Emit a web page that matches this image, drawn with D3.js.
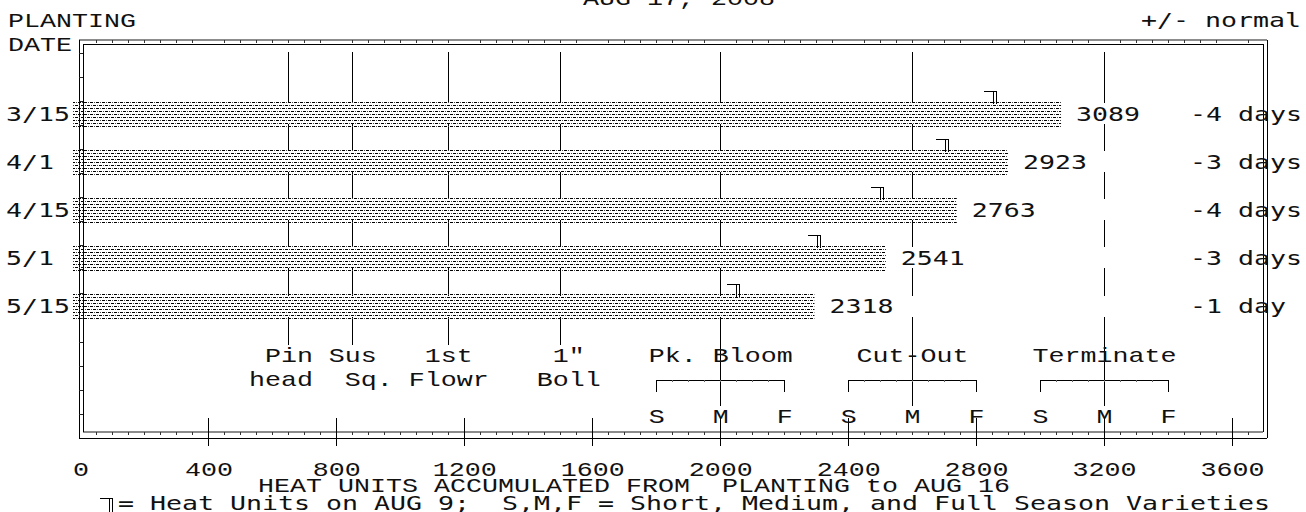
<!DOCTYPE html>
<html><head><meta charset="utf-8">
<script src="https://cdn.jsdelivr.net/npm/d3@7"></script>
<style>body{margin:0;background:#fff}svg{display:block}</style>
</head><body>
<svg id="c" width="1306" height="512"></svg>
<script>
// ---------------- data ----------------
const plantingDates = ["3/15","4/1","4/15","5/1","5/15"];
const heatUnits     = [3089, 2923, 2763, 2541, 2318];
const aug9Units     = [2879, 2729, 2526, 2329, 2076];
const daysFromNormal = ["-4 days","-3 days","-4 days","-3 days","-1 day"];
const xTicks = [0,400,800,1200,1600,2000,2400,2800,3200,3600];
const stageValues = [650, 850, 1150, 1500];
const stageTop    = ["Pin","Sus","1st","1\""];
const stageBottom = ["head","Sq.","Flowr","Boll"];
const seasonStages = ["Pk. Bloom","Cut-Out","Terminate"];
const seasonS = [1800, 2400, 3000];
const seasonM = [2000, 2600, 3200];
const seasonF = [2200, 2800, 3400];
const titleText  = "AUG 17, 2008";
const yTitle1 = "PLANTING", yTitle2 = "DATE";
const rightTitle = "+/- normal";
const xTitle = "HEAT UNITS ACCUMULATED FROM  PLANTING to AUG 16";
const legendText = "= Heat Units on AUG 9;  S,M,F = Short, Medium, and Full Season Varieties";

// ---------------- layout ----------------
const svg = d3.select("#c");
const x = d3.scaleLinear().domain([0,3600]).range([81,1232.5]);
const y = d3.scalePoint().domain(plantingDates).range([113.5,306]);
const BAR_H = 27, BAR_SHIFT = -8, CW = 16;
const SERIF = "'Courier New', Courier, 'Nimbus Mono PS', 'Liberation Mono', monospace";
const SANS  = "'DejaVu Sans Mono', monospace";
const SERIF_SIZE = 21, SANS_SIZE = 20;
const stageTopNudge = [0,0,0,8], stageBottomNudge = [-8,16,0,8];

function gridText(str, left, baseline, family, size) {
  return svg.append("text").attr("x", left).attr("y", baseline)
    .attr("textLength", str.length*CW).attr("lengthAdjust","spacingAndGlyphs")
    .attr("font-family",family).attr("font-size",size)
    .attr("fill","#111").attr("xml:space","preserve").style("white-space","pre").text(str);
}
const centeredText = (str, cx, baseline, family, size) =>
  gridText(str, cx - str.length*CW/2, baseline, family, size);

// pattern
const defs = svg.append("defs");
const pat = defs.append("pattern").attr("id","dith").attr("patternUnits","userSpaceOnUse")
  .attr("width",6).attr("height",6);
pat.append("rect").attr("x",0).attr("y",0).attr("width",3).attr("height",1).attr("fill","#000");
pat.append("rect").attr("x",4).attr("y",0).attr("width",1).attr("height",1).attr("fill","#444");
pat.append("rect").attr("x",3).attr("y",3).attr("width",3).attr("height",1).attr("fill","#000");
pat.append("rect").attr("x",1).attr("y",3).attr("width",1).attr("height",1).attr("fill","#444");

// ---------------- frame ----------------
const xL0 = x(0)-2, xL1 = x(0)+2, xR1 = 1263, xR0 = 1267;
const yT0 = 40, yT1 = 44, yB1 = 432, yB0 = 438;
const frame = svg.append("g").attr("shape-rendering","crispEdges");
frame.append("line").attr("x1",xL0).attr("x2",xR0).attr("y1",yT0).attr("y2",yT0).attr("stroke","#8c8c8c").attr("stroke-width",1.6);
frame.append("line").attr("x1",xL1).attr("x2",xR1).attr("y1",yT1).attr("y2",yT1).attr("stroke","#000");
frame.append("line").attr("x1",xL1).attr("x2",xR1).attr("y1",yB1).attr("y2",yB1).attr("stroke","#8c8c8c").attr("stroke-width",1.6);
frame.append("line").attr("x1",xL0).attr("x2",xR0).attr("y1",yB0).attr("y2",yB0).attr("stroke","#000");
frame.append("line").attr("x1",xL0).attr("x2",xL0).attr("y1",yT0).attr("y2",yB0).attr("stroke","#000");
frame.append("line").attr("x1",xL1).attr("x2",xL1).attr("y1",yT1).attr("y2",yB1).attr("stroke","#000");
frame.append("line").attr("x1",xR0).attr("x2",xR0).attr("y1",yT0).attr("y2",yB0).attr("stroke","#000");
frame.append("line").attr("x1",xR1).attr("x2",xR1).attr("y1",yT1).attr("y2",yB1).attr("stroke","#000");
const minor = d3.range(50, 3700, 50).filter(v => xTicks.indexOf(v) < 0);
frame.selectAll(".mt").data(minor).join("line")
  .attr("x1",d=>x(d)).attr("x2",d=>x(d)).attr("y1",yT0).attr("y2",yT0+3).attr("stroke","#333");
frame.selectAll(".mb").data(minor).join("line")
  .attr("x1",d=>x(d)).attr("x2",d=>x(d)).attr("y1",yB1).attr("y2",yB1+3).attr("stroke","#333");
const stepY = y.step();
const leftTicks = d3.range(-6, 16).map(k => y(plantingDates[0]) + 12 + k*stepY/2).filter(v => v > yT1+4 && v < yB1-2);
frame.selectAll(".ml").data(leftTicks).join("line")
  .attr("x1",xL0).attr("x2",xL1).attr("y1",d=>d).attr("y2",d=>d).attr("stroke","#222");
svg.append("g").attr("shape-rendering","crispEdges").selectAll("line").data(xTicks.filter(v=>v>0)).join("line")
  .attr("x1",d=>x(d)).attr("x2",d=>x(d)).attr("y1",418).attr("y2",446).attr("stroke","#000");

// ---------------- milestone lines ----------------
const tops = plantingDates.map(d => y(d) - BAR_H/2);
const bots = plantingDates.map(d => y(d) + BAR_H/2);
function segments(endY) {
  const s = [[52, tops[0]+3]];
  for (let i=0;i<tops.length-1;i++) s.push([bots[i]-3, tops[i+1]+3]);
  s.push([bots[bots.length-1]-3, endY]);
  return s;
}
const lines = svg.append("g").attr("shape-rendering","crispEdges");
stageValues.forEach(v => segments(345).forEach(([a,b]) =>
  lines.append("line").attr("x1",x(v)).attr("x2",x(v)).attr("y1",a).attr("y2",b).attr("stroke","#000")));
seasonM.forEach(v => segments(406).forEach(([a,b]) =>
  lines.append("line").attr("x1",x(v)).attr("x2",x(v)).attr("y1",a).attr("y2",b).attr("stroke","#000")));
const BR_Y = 380, BR_END = 392;
seasonStages.forEach((s,i) => {
  lines.append("line").attr("x1",x(seasonS[i])).attr("x2",x(seasonF[i])).attr("y1",BR_Y).attr("y2",BR_Y).attr("stroke","#000");
  lines.append("line").attr("x1",x(seasonS[i])).attr("x2",x(seasonS[i])).attr("y1",BR_Y).attr("y2",BR_END).attr("stroke","#000");
  lines.append("line").attr("x1",x(seasonF[i])).attr("x2",x(seasonF[i])).attr("y1",BR_Y).attr("y2",BR_END).attr("stroke","#000");
  d3.range(seasonS[i]+50, seasonF[i], 50).forEach(v =>
    lines.append("line").attr("x1",x(v)).attr("x2",x(v)).attr("y1",BR_Y).attr("y2",BR_Y+2).attr("stroke","#666"));
});

// ---------------- bars ----------------
svg.append("g").selectAll("rect").data(plantingDates).join("rect")
  .attr("x", x(0)+BAR_SHIFT).attr("y", d => y(d)-BAR_H/2)
  .attr("width", (d,i) => x(heatUnits[i]) - x(0)).attr("height", BAR_H)
  .attr("fill","url(#dith)");

function marker(g, xv, yTop, h) {
  g.append("path").attr("d",
    `M${xv-10},${yTop}H${xv+2}M${xv-1},${yTop}V${yTop+h}M${xv+2},${yTop}V${yTop+h}`)
    .attr("stroke","#000").attr("fill","none").attr("stroke-width",1);
}
const mk = svg.append("g").attr("shape-rendering","crispEdges");
plantingDates.forEach((d,i) => marker(mk, Math.round(x(aug9Units[i])+BAR_SHIFT), Math.round(tops[i]-9), 13));

// ---------------- texts ----------------
gridText(titleText, 583, 5, SERIF, SERIF_SIZE);
gridText(yTitle1, 8, 27, SERIF, SERIF_SIZE);
gridText(yTitle2, 8, 51, SERIF, SERIF_SIZE);
gridText(rightTitle, 1141, 27, SANS, SANS_SIZE);
plantingDates.forEach((d,i) => {
  gridText(d, 6, y(d)+7, SANS, SANS_SIZE);
  gridText(String(heatUnits[i]), x(heatUnits[i]) + BAR_SHIFT + 15, y(d)+7, SANS, SANS_SIZE);
  gridText(daysFromNormal[i], 1190, y(d)+7, SANS, SANS_SIZE);
});
stageValues.forEach((v,i) => {
  centeredText(stageTop[i], x(v)+stageTopNudge[i], 362, SERIF, SERIF_SIZE);
  centeredText(stageBottom[i], x(v)+stageBottomNudge[i], 386, SERIF, SERIF_SIZE);
});
seasonStages.forEach((s,i) => {
  centeredText(s, x(seasonM[i]), 362, SERIF, SERIF_SIZE);
  centeredText("S", x(seasonS[i]), 423, SERIF, SERIF_SIZE);
  centeredText("M", x(seasonM[i]), 423, SERIF, SERIF_SIZE);
  centeredText("F", x(seasonF[i]), 423, SERIF, SERIF_SIZE);
});
xTicks.forEach(v => centeredText(String(v), x(v), 476, SERIF, SERIF_SIZE));
centeredText(xTitle, 634, 492, SERIF, SERIF_SIZE);
gridText(legendText, 118, 510, SANS, SANS_SIZE);
marker(mk, 110, 498, 14);
</script>
</body></html>
